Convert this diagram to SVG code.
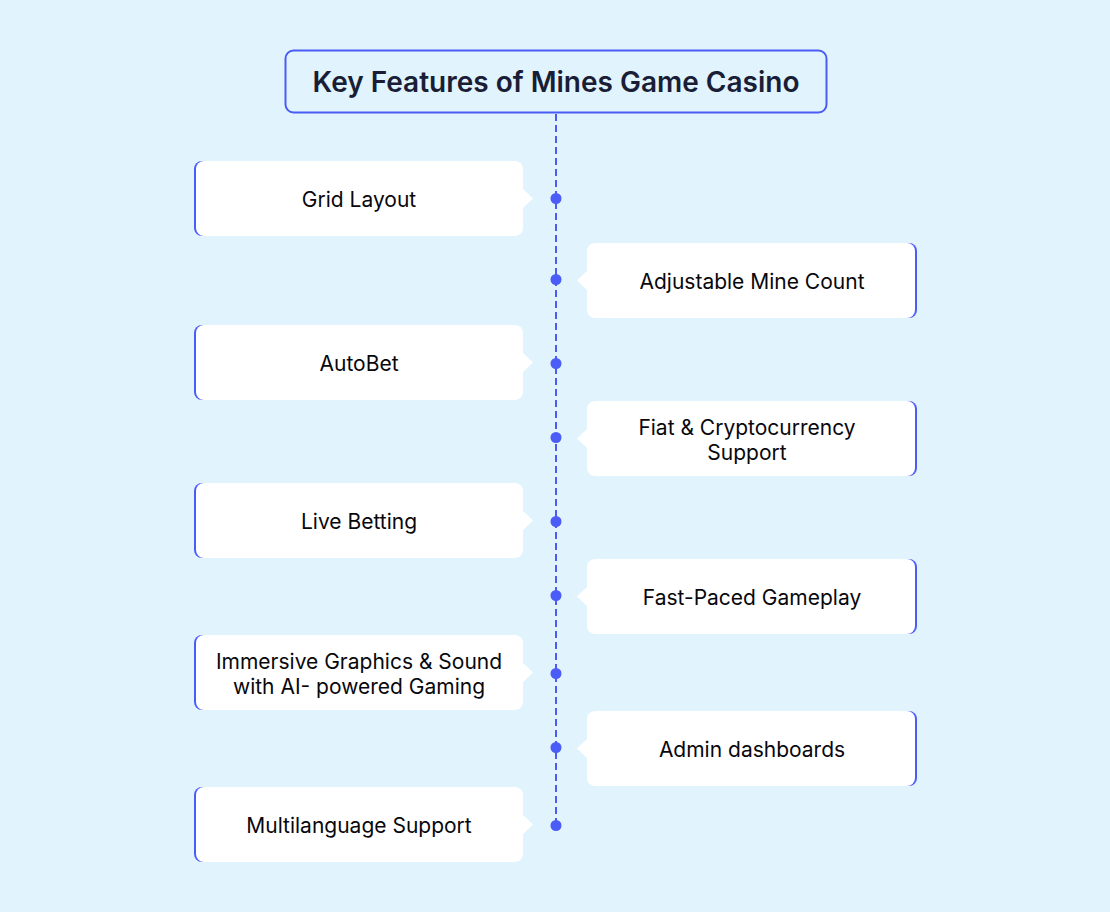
<svg xmlns="http://www.w3.org/2000/svg" width="1110" height="912" viewBox="0 0 1110 912">
<defs>
<style>
.bg{fill:#e1f3fd}
.title{fill:#e1f3fd;stroke:#4b5cf5;stroke-width:2}
.tt{font-family:Inter,"Noto Sans","Liberation Sans",sans-serif;font-size:28px;font-weight:600;fill:#1a1d36;text-anchor:middle}
.lbl{font-family:Inter,"Noto Sans","Liberation Sans",sans-serif;font-size:21px;fill:#08080c;text-anchor:middle}
.edge{fill:#4b5cf7}
.card{fill:#ffffff}
.dot{fill:#4b5cf7}
.line{stroke:#4b5cf5;stroke-width:2;stroke-dasharray:7 4;fill:none}
</style>
<g id="cardL">
<rect class="edge" x="194" y="0" width="326" height="75" rx="8"/>
<rect class="card" x="196" y="0" width="327" height="75" rx="8"/>
<path class="card" d="M522 27 L533 37.5 L522 48 Z"/>
</g>
<g id="cardR">
<rect class="edge" x="590" y="0" width="327" height="75" rx="8"/>
<rect class="card" x="587" y="0" width="328" height="75" rx="8"/>
<path class="card" d="M588 27 L577 37.5 L588 48 Z"/>
</g>
</defs>
<rect class="bg" x="0" y="0" width="1110" height="912"/>
<g id="connectors">
<line class="line" x1="556" y1="114" x2="556" y2="825"/>
<circle class="dot" cx="556" cy="198.5" r="5.5"/>
<circle class="dot" cx="556" cy="279.5" r="5.5"/>
<circle class="dot" cx="556" cy="363.5" r="5.5"/>
<circle class="dot" cx="556" cy="437.5" r="5.5"/>
<circle class="dot" cx="556" cy="521.5" r="5.5"/>
<circle class="dot" cx="556" cy="595.5" r="5.5"/>
<circle class="dot" cx="556" cy="673.5" r="5.5"/>
<circle class="dot" cx="556" cy="747.5" r="5.5"/>
<circle class="dot" cx="556" cy="825.5" r="5.5"/>
</g>
<g id="title">
<rect class="title" x="285.5" y="50.5" width="541" height="62" rx="8"/>
<text class="tt" x="556" y="92">Key Features of Mines Game Casino</text>
</g>
<g id="n1"><use href="#cardL" y="161"/><text class="lbl" x="359" y="206.5">Grid Layout</text></g>
<g id="n2"><use href="#cardR" y="243"/><text class="lbl" x="752" y="288.5">Adjustable Mine Count</text></g>
<g id="n3"><use href="#cardL" y="325"/><text class="lbl" x="359" y="370.5">AutoBet</text></g>
<g id="n4"><use href="#cardR" y="401"/><text class="lbl" x="747" y="434.5">Fiat &amp; Cryptocurrency</text><text class="lbl" x="747" y="459.5">Support</text></g>
<g id="n5"><use href="#cardL" y="483"/><text class="lbl" x="359" y="528.5">Live Betting</text></g>
<g id="n6"><use href="#cardR" y="559"/><text class="lbl" x="752" y="604.5">Fast-Paced Gameplay</text></g>
<g id="n7"><use href="#cardL" y="635"/><text class="lbl" x="359" y="668.5">Immersive Graphics &amp; Sound</text><text class="lbl" x="359" y="693.5">with AI- powered Gaming</text></g>
<g id="n8"><use href="#cardR" y="711"/><text class="lbl" x="752" y="756.5">Admin dashboards</text></g>
<g id="n9"><use href="#cardL" y="787"/><text class="lbl" x="359" y="832.5">Multilanguage Support</text></g>
</svg>
